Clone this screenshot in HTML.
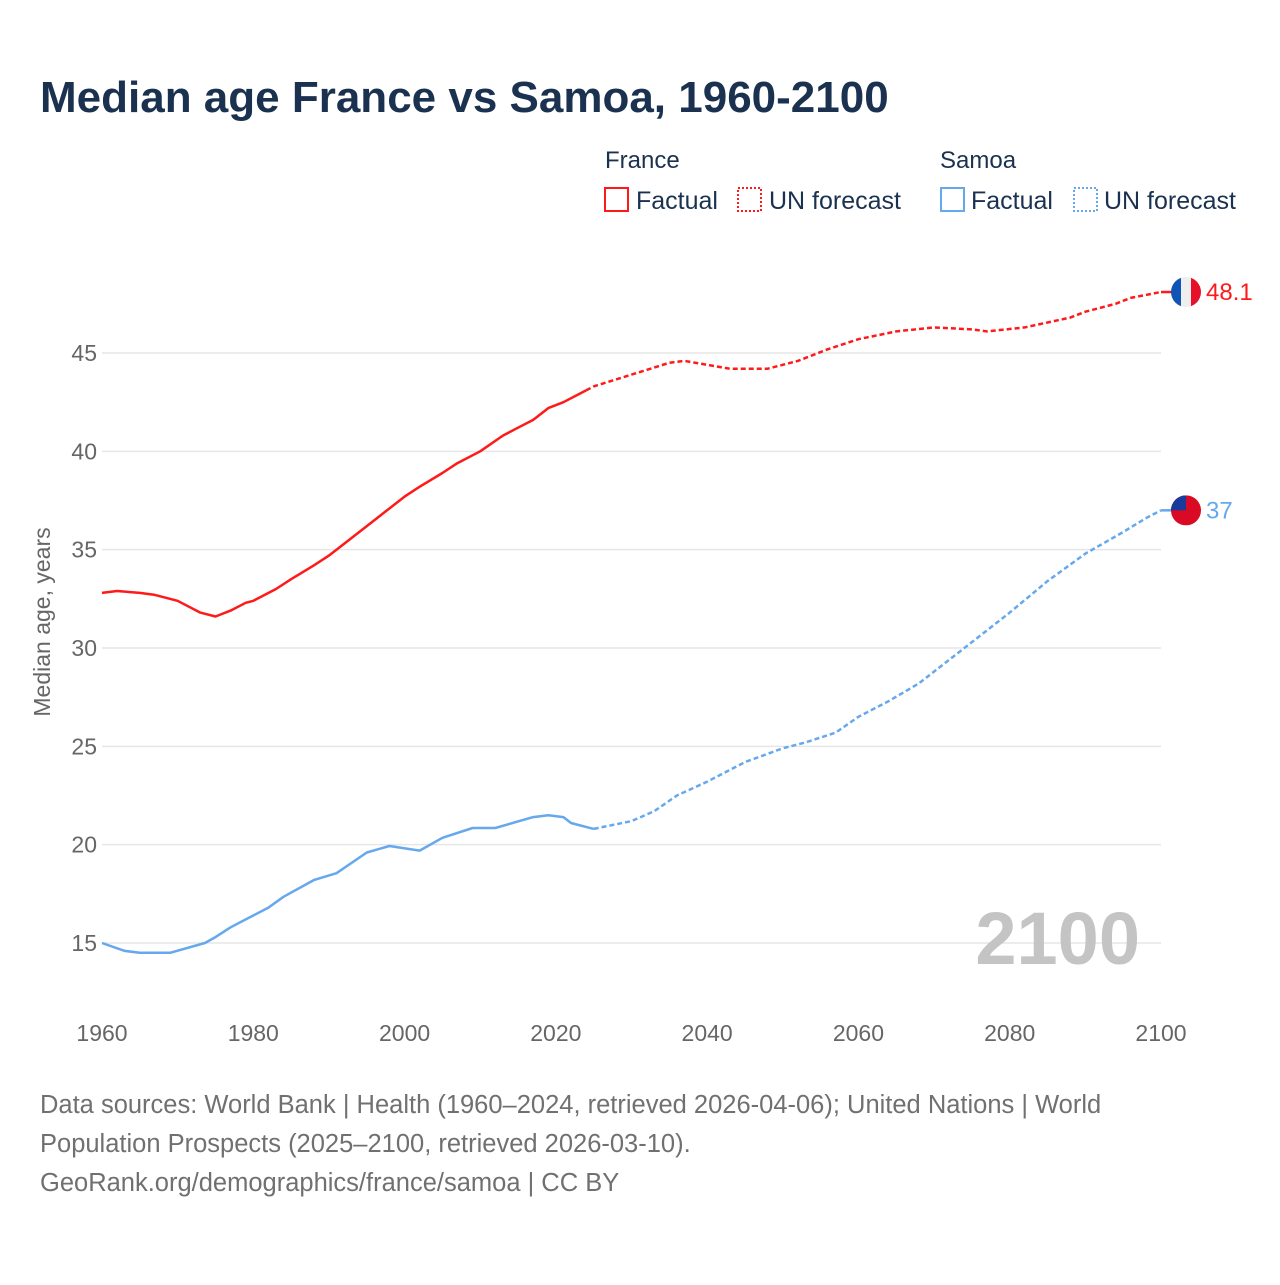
<!DOCTYPE html>
<html><head><meta charset="utf-8"><style>
body{margin:0;background:#fff;width:1280px;height:1280px;overflow:hidden;font-family:"Liberation Sans",sans-serif;}
svg text{font-family:"Liberation Sans",sans-serif;}
</style></head><body>
<svg id="chart" width="1280" height="1280">
<text x="40" y="112" font-size="44" font-weight="bold" fill="#1b3150">Median age France vs Samoa, 1960-2100</text>
<g>
<text x="605" y="168" font-size="24" fill="#1b3150">France</text>
<rect x="605" y="188" width="23" height="23" fill="none" stroke="#ff1a1a" stroke-width="2"/>
<text x="636" y="209" font-size="25" fill="#1b3150">Factual</text>
<rect x="738" y="188" width="23" height="23" fill="none" stroke="#ff1a1a" stroke-width="2" stroke-dasharray="2,2"/>
<text x="769" y="209" font-size="25" fill="#1b3150">UN forecast</text>
<text x="940" y="168" font-size="24" fill="#1b3150">Samoa</text>
<rect x="941" y="188" width="23" height="23" fill="none" stroke="#66a8ee" stroke-width="2"/>
<text x="971" y="209" font-size="25" fill="#1b3150">Factual</text>
<rect x="1074" y="188" width="23" height="23" fill="none" stroke="#66a8ee" stroke-width="2" stroke-dasharray="2,2"/>
<text x="1104" y="209" font-size="25" fill="#1b3150">UN forecast</text>
</g>
<text transform="translate(50,622) rotate(-90)" text-anchor="middle" font-size="23" fill="#666">Median age, years</text>
<g id="grid"></g><g id="ticks"></g>
<text x="1140" y="964" text-anchor="end" font-size="74" font-weight="bold" fill="#c4c4c4">2100</text>
<g id="lines"></g>
<g id="ends"></g>
<g font-size="25.5" fill="#707070">
<text x="40" y="1113" fill="#707070">Data sources: World Bank | Health (1960–2024, retrieved 2026-04-06); United Nations | World</text>
<text x="40" y="1152" fill="#707070">Population Prospects (2025–2100, retrieved 2026-03-10).</text>
<text x="40" y="1191" fill="#707070">GeoRank.org/demographics/france/samoa | CC BY</text>
</g>
</svg>
<script>
const yTicks=[15,20,25,30,35,40,45];
const xTicks=[1960,1980,2000,2020,2040,2060,2080,2100];
const frYearsA=[1960,1962,1965,1967,1970,1973,1975,1977,1979,1980,1983,1985,1988,1990,1995,2000,2002,2005,2007,2010,2013,2015,2017,2019,2021,2024];
const frValsA=[32.8,32.9,32.8,32.7,32.4,31.8,31.6,31.9,32.3,32.4,33.0,33.5,34.2,34.7,36.2,37.7,38.2,38.9,39.4,40.0,40.8,41.2,41.6,42.2,42.5,43.1];
const frYearsF=[2024,2025,2030,2035,2037,2040,2043,2048,2052,2056,2060,2065,2070,2075,2077,2082,2088,2090,2094,2096,2100];
const frValsF=[43.1,43.3,43.9,44.5,44.6,44.4,44.2,44.2,44.6,45.2,45.7,46.1,46.3,46.2,46.1,46.3,46.8,47.1,47.5,47.8,48.1];
const saYearsA=[1960,1963,1965,1969,1973.6,1975,1977,1982,1984,1988,1991,1995,1998,2002,2005,2009,2012,2017,2019,2021,2022,2025];
const saValsA=[15.0,14.6,14.5,14.5,15.0,15.3,15.8,16.8,17.35,18.2,18.55,19.6,19.93,19.7,20.35,20.85,20.85,21.4,21.5,21.4,21.1,20.8];
const saYearsF=[2025,2030,2033,2036,2040,2045,2050,2053,2057,2060,2064,2068,2072,2076,2080,2085,2090,2095,2098,2100];
const saValsF=[20.8,21.2,21.7,22.5,23.2,24.2,24.9,25.2,25.7,26.5,27.3,28.2,29.4,30.6,31.8,33.4,34.8,35.9,36.6,37.0];
const X=y=>102+(y-1960)*(1059/140);
const Y=v=>353-(v-45)*(590/30);
const NS="http://www.w3.org/2000/svg";
function mk(t,a,p){const e=document.createElementNS(NS,t);for(const k in a)e.setAttribute(k,a[k]);p.appendChild(e);return e;}
const grid=document.getElementById('grid'),ticks=document.getElementById('ticks');
yTicks.forEach(v=>{
 const l=mk('line',{x1:102,x2:1161,y1:Y(v),y2:Y(v),stroke:'#e6e6e6','stroke-width':1.5},grid);
 
 
 const t=mk('text',{x:97,y:Y(v)+8,'text-anchor':'end','font-size':23,fill:'#666'},ticks);
 t.textContent=v;
 
 
});
xTicks.forEach(y=>{
 const t=mk('text',{x:X(y),y:1041,'text-anchor':'middle','font-size':23,fill:'#666'},ticks);
 t.textContent=y;
 
 
});
const lines=document.getElementById('lines');
function line(ys,vs,col,dash,name){
 const d=ys.map((y,i)=>(i?'L':'M')+X(y).toFixed(1)+','+Y(vs[i]).toFixed(1)).join('');
 const p=mk('path',{d:d,fill:'none',stroke:col,'stroke-width':2.5,'stroke-linejoin':'round'},lines);
 if(dash)p.setAttribute('stroke-dasharray','5,3');
 
 
}
line(frYearsA,frValsA,'#ff1a1a',false,'france-factual-line');
line(frYearsF,frValsF,'#ff1a1a',true,'france-forecast-line');
line(saYearsA,saValsA,'#66a8ee',false,'samoa-factual-line');
line(saYearsF,saValsF,'#66a8ee',true,'samoa-forecast-line');
const ends=document.getElementById('ends');
function endMark(v,col,name,flag){
 const y=Y(v),cx=1186;
 const g=mk('g',{},ends);
 
 
 mk('line',{x1:1161,x2:1172,y1:y,y2:y,stroke:col,'stroke-width':2.5},g);
 const cp=mk('clipPath',{id:'c'+name},g);mk('circle',{cx:cx,cy:y,r:15},cp);
 const f=mk('g',{'clip-path':'url(#c'+name+')'},g);
 if(flag==='fr'){mk('rect',{x:cx-15,y:y-15,width:10,height:30,fill:'#0f55b5'},f);mk('rect',{x:cx-5,y:y-15,width:10,height:30,fill:'#eee'},f);mk('rect',{x:cx+5,y:y-15,width:10,height:30,fill:'#e5102a'},f);}
 else{mk('rect',{x:cx-15,y:y-15,width:30,height:30,fill:'#da0a25'},f);mk('rect',{x:cx-15,y:y-15,width:15,height:15,fill:'#1a3a9c'},f);}
 const t=mk('text',{x:1206,y:y+8,'font-size':24,fill:col},g);t.textContent=v;
}
endMark(frValsF[frValsF.length-1],'#ff1a1a','france-end-label','fr');
endMark(saValsF[saValsF.length-1],'#66a8ee','samoa-end-label','ws');
</script>
</body></html>
